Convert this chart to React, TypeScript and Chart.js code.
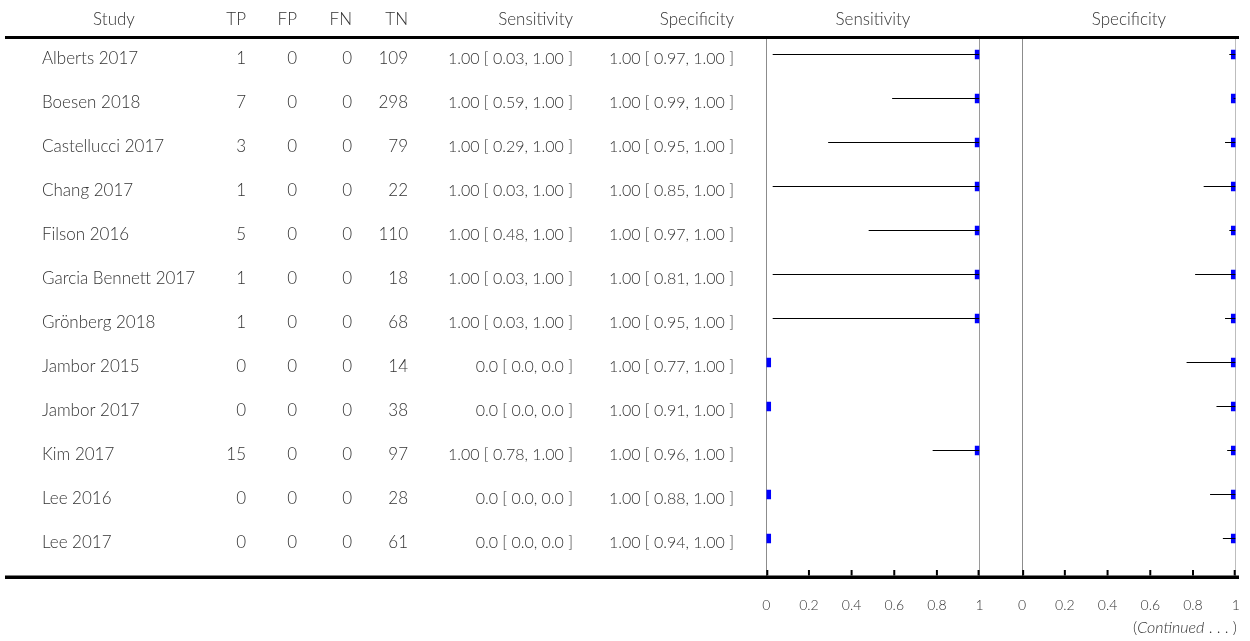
import React, { useEffect, useRef } from "react";
import { Chart, registerables } from "chart.js";

Chart.register(...registerables);

const studies = [
  "Alberts 2017",
  "Boesen 2018",
  "Castellucci 2017",
  "Chang 2017",
  "Filson 2016",
  "Garcia Bennett 2017",
  "Grönberg 2018",
  "Jambor 2015",
  "Jambor 2017",
  "Kim 2017",
  "Lee 2016",
  "Lee 2017",
];
const tp = [1, 7, 3, 1, 5, 1, 1, 0, 0, 15, 0, 0];
const fp = [0, 0, 0, 0, 0, 0, 0, 0, 0, 0, 0, 0];
const fn = [0, 0, 0, 0, 0, 0, 0, 0, 0, 0, 0, 0];
const tn = [109, 298, 79, 22, 110, 18, 68, 14, 38, 97, 28, 61];

const sensEst = [1, 1, 1, 1, 1, 1, 1, 0, 0, 1, 0, 0];
const sensLow = [0.03, 0.59, 0.29, 0.03, 0.48, 0.03, 0.03, 0, 0, 0.78, 0, 0];
const sensHigh = [1, 1, 1, 1, 1, 1, 1, 0, 0, 1, 0, 0];

const specEst = [1, 1, 1, 1, 1, 1, 1, 1, 1, 1, 1, 1];
const specLow = [0.97, 0.99, 0.95, 0.85, 0.97, 0.81, 0.95, 0.77, 0.91, 0.96, 0.88, 0.94];
const specHigh = [1, 1, 1, 1, 1, 1, 1, 1, 1, 1, 1, 1];

const columnHeaders = ["Study", "TP", "FP", "FN", "TN", "Sensitivity", "Specificity"];
const panelTitles = ["Sensitivity", "Specificity"];
const tickStep = 0.2;

const FONT = "'Lato Light', Lato, 'Open Sans', 'DejaVu Sans', sans-serif";
const TEXT = "#333333";

function fmtCI(e: number, l: number, h: number): string {
  if (e === 0 && l === 0 && h === 0) return "0.0 [ 0.0, 0.0 ]";
  return `${e.toFixed(2)} [ ${l.toFixed(2)}, ${h.toFixed(2)} ]`;
}

function ciData(lo: number[], hi: number[]) {
  const out: any[] = [];
  lo.forEach((l, i) => {
    out.push({ x: l, y: i }, { x: hi[i], y: i }, { x: null, y: null });
  });
  return out;
}

const tablePlugin = {
  id: "forestTable",
  beforeDatasetDraw(chart: any, args: any) {
    const ctx = chart.ctx;
    const xs = chart.scales[args.meta.xAxisID];
    const ca = chart.chartArea;
    ctx.save();
    ctx.beginPath();
    ctx.rect(xs.left, ca.top - 20, xs.right - xs.left, ca.bottom - ca.top + 40);
    ctx.clip();
  },
  afterDatasetDraw(chart: any) {
    chart.ctx.restore();
  },
  afterDraw(chart: any) {
    const ctx = chart.ctx;
    const ca = chart.chartArea;
    const y = chart.scales.y;
    ctx.save();
    // top and bottom rules
    ctx.fillStyle = "#000";
    ctx.fillRect(5, ca.top - 3, 1234, 3);
    ctx.fillRect(5, ca.bottom - 1.5, 1234, 3.5);
    // inward tick marks
    ctx.strokeStyle = "#000";
    ctx.lineWidth = 2;
    ["xs", "xp"].forEach((id) => {
      const s = chart.scales[id];
      s.ticks.forEach((t: any) => {
        let px = s.getPixelForValue(t.value);
        px = Math.min(Math.max(px, s.left + 1), s.right - 1);
        ctx.beginPath();
        ctx.moveTo(px, ca.bottom - 7);
        ctx.lineTo(px, ca.bottom - 1.5);
        ctx.stroke();
      });
    });

    // headers
    const big = `300 17px ${FONT}`;
    const mid = `300 16px ${FONT}`;
    ctx.fillStyle = TEXT;
    ctx.font = big;
    ctx.textBaseline = "alphabetic";
    const hy = 25;
    ctx.textAlign = "center";
    ctx.fillText(columnHeaders[0], 114, hy);
    ctx.textAlign = "right";
    const colRight = [0, 246, 297, 352, 408, 573, 734];
    for (let c = 1; c < columnHeaders.length; c++) ctx.fillText(columnHeaders[c], colRight[c], hy);
    ctx.textAlign = "center";
    const xs = chart.scales.xs;
    const xp = chart.scales.xp;
    ctx.fillText(panelTitles[0], (xs.getPixelForValue(0) + xs.getPixelForValue(1)) / 2, hy);
    ctx.fillText(panelTitles[1], (xp.getPixelForValue(0) + xp.getPixelForValue(1)) / 2, hy);

    // rows
    studies.forEach((name, i) => {
      const ry = y.getPixelForValue(i) + 9;
      ctx.font = big;
      ctx.textAlign = "left";
      ctx.fillText(name, 42, ry);
      ctx.textAlign = "right";
      ctx.fillText(String(tp[i]), colRight[1], ry);
      ctx.fillText(String(fp[i]), colRight[2], ry);
      ctx.fillText(String(fn[i]), colRight[3], ry);
      ctx.fillText(String(tn[i]), colRight[4], ry);
      ctx.font = mid;
      ctx.fillText(fmtCI(sensEst[i], sensLow[i], sensHigh[i]), colRight[5], ry);
      ctx.fillText(fmtCI(specEst[i], specLow[i], specHigh[i]), colRight[6], ry);
    });

    // (Continued ...)
    const cy = 633;
    ctx.textAlign = "left";
    const normal = `300 16px ${FONT}`;
    const italic = `italic 300 16px ${FONT}`;
    const parts: [string, string][] = [
      ["(", normal],
      ["Continued", italic],
      [" . . . )", normal],
    ];
    let total = 0;
    parts.forEach(([t, f]) => {
      ctx.font = f;
      total += ctx.measureText(t).width;
    });
    let cx = 1237 - total;
    parts.forEach(([t, f]) => {
      ctx.font = f;
      ctx.fillText(t, cx, cy);
      cx += ctx.measureText(t).width;
    });
    ctx.restore();
  },
};

function panelScale(weight: number, rightColor: string) {
  return {
    type: "linear",
    position: "bottom",
    stack: "panels",
    stackWeight: weight,
    min: 0,
    max: 1,
    grid: {
      drawTicks: false,
      lineWidth: 1,
      color: (c: any) =>
        c.tick && c.tick.value === 0 ? "#8c8c8c" : c.tick && c.tick.value === 1 ? rightColor : "rgba(0,0,0,0)",
    },
    border: { display: false },
    ticks: {
      stepSize: tickStep,
      padding: 20,
      color: "#333",
      maxRotation: 0,
      autoSkip: false,
      font: { family: FONT, size: 14, weight: "300" },
      callback: (v: any) => String(+Number(v).toFixed(2)),
    },
    afterFit: (s: any) => {
      s.height = 40;
      s.paddingLeft = 0;
      s.paddingRight = 0;
    },
  };
}

export default function App() {
  const ref = useRef<HTMLCanvasElement | null>(null);
  useEffect(() => {
    if (!ref.current) return;
    const chart = new Chart(ref.current, {
      type: "scatter",
      data: {
        datasets: [
          {
            label: "Sensitivity CI",
            xAxisID: "xs",
            yAxisID: "y",
            data: ciData(sensLow, sensHigh),
            showLine: true,
            spanGaps: false,
            borderColor: "#000",
            borderWidth: 1,
            pointRadius: 0,
          },
          {
            label: "Specificity CI",
            xAxisID: "xp",
            yAxisID: "y",
            data: ciData(specLow, specHigh),
            showLine: true,
            spanGaps: false,
            borderColor: "#000",
            borderWidth: 1,
            pointRadius: 0,
          },
          {
            label: "Sensitivity",
            xAxisID: "xs",
            yAxisID: "y",
            data: sensEst.map((v, i) => ({ x: v, y: i })),
            pointStyle: "rect",
            pointRadius: 6.7,
            backgroundColor: "#0000ff",
            borderWidth: 0,
          },
          {
            label: "Specificity",
            xAxisID: "xp",
            yAxisID: "y",
            data: specEst.map((v, i) => ({ x: v, y: i })),
            pointStyle: "rect",
            pointRadius: 6.7,
            backgroundColor: "#0000ff",
            borderWidth: 0,
          },
        ],
      } as any,
      options: {
        animation: false,
        responsive: true,
        maintainAspectRatio: false,
        layout: { padding: { left: 766.3, right: 14.3, top: 39, bottom: 24 } },
        plugins: { legend: { display: false }, tooltip: { enabled: false } },
        scales: {
          y: { type: "linear", reverse: true, min: -0.3523, max: 11.875, display: false },
          xs: panelScale(213.4, "#9a9a9a"),
          xgap: {
            type: "linear",
            position: "bottom",
            stack: "panels",
            stackWeight: 42.6,
            min: 0,
            max: 1,
            display: false,
          },
          xp: panelScale(213.7, "#bdbdbd"),
        } as any,
      },
      plugins: [tablePlugin],
    });
    return () => chart.destroy();
  }, []);
  return (
    <div style={{ position: "fixed", left: 0, top: 0, width: 1250, height: 641, background: "#fff" }}>
      <canvas ref={ref} />
    </div>
  );
}
